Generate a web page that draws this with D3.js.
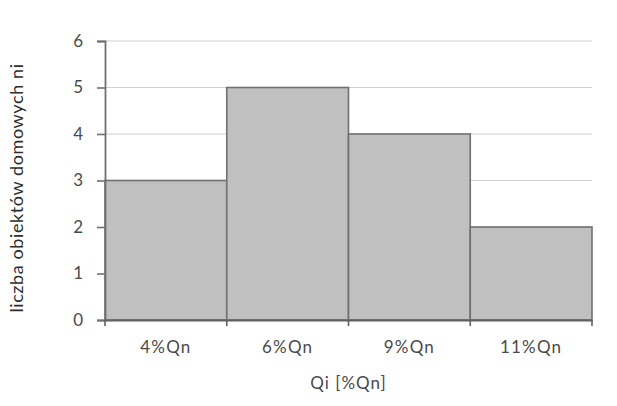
<!DOCTYPE html>
<html>
<head>
<meta charset="utf-8">
<script src="https://cdn.jsdelivr.net/npm/d3@7"></script>
<style>
  html, body { margin: 0; padding: 0; background: #fff; }
  text { font-family: Lato, "Open Sans", sans-serif; fill: #4a4a4a; }
</style>
</head>
<body>
<svg id="chart" width="617" height="406"></svg>
<script>
// Histogram of households by Qi share
const categories = ["4%Qn", "6%Qn", "9%Qn", "11%Qn"];
const counts = [3, 5, 4, 2];
const yTicks = [0, 1, 2, 3, 4, 5, 6];

const svg = d3.select("#chart");
const margin = { left: 105, right: 25, top: 41, bottom: 86 };
const W = 617, H = 406;

const x = d3.scaleBand().domain(categories)
  .range([margin.left, W - margin.right]).paddingInner(0).paddingOuter(0);
const y = d3.scaleLinear().domain([0, 6]).range([H - margin.bottom, margin.top]);

// gridlines
svg.append("g").selectAll("line").data(yTicks.filter(d => d > 0)).join("line")
  .attr("x1", margin.left).attr("x2", W - margin.right)
  .attr("y1", d => y(d)).attr("y2", d => y(d))
  .attr("stroke", "#cfcfcf").attr("stroke-width", 1);

// bars
svg.append("g").selectAll("rect").data(categories).join("rect")
  .attr("x", d => x(d))
  .attr("y", (d, i) => y(counts[i]))
  .attr("width", x.bandwidth())
  .attr("height", (d, i) => y(0) - y(counts[i]))
  .attr("fill", "#c0c0c0")
  .attr("stroke", "#707070")
  .attr("stroke-width", 1.6);

// y axis
const yAxis = svg.append("g").attr("transform", `translate(${margin.left},0)`)
  .call(d3.axisLeft(y).tickValues(yTicks).tickSize(8).tickPadding(14).tickFormat(d3.format("d")));
yAxis.select(".domain").attr("stroke", "#707070").attr("stroke-width", 1.8);
yAxis.selectAll(".tick line").attr("stroke", "#707070").attr("stroke-width", 1.6);
yAxis.selectAll(".tick text").attr("font-size", 17).style("fill", "#4a4a4a");

// x axis
const xAxis = svg.append("g").attr("transform", `translate(0,${y(0)})`)
  .call(d3.axisBottom(x).tickSize(0).tickPadding(21));
xAxis.select(".domain").attr("stroke", "#606060").attr("stroke-width", 2);
xAxis.selectAll(".tick text").attr("font-size", 17).style("fill", "#4a4a4a")
  .attr("letter-spacing", "1.2px");
// boundary ticks between bins
const bounds = categories.map(c => x(c)).concat([x.range()[1]]);
svg.append("g").selectAll("line").data(bounds).join("line")
  .attr("x1", d => d).attr("x2", d => d)
  .attr("y1", y(0)).attr("y2", y(0) + 6)
  .attr("stroke", "#606060").attr("stroke-width", 1.6);

// axis titles
svg.append("text")
  .attr("x", (margin.left + W - margin.right) / 2).attr("y", 389)
  .attr("text-anchor", "middle").attr("font-size", 17)
  .attr("letter-spacing", "1px")
  .text("Qi [%Qn]");
svg.append("text")
  .attr("transform", `translate(23,188) rotate(-90)`)
  .attr("text-anchor", "middle").attr("font-size", 18)
  .attr("letter-spacing", "0.6px")
  .style("fill", "#2e2e2e")
  .text("liczba obiektów domowych ni");
</script>
</body>
</html>
